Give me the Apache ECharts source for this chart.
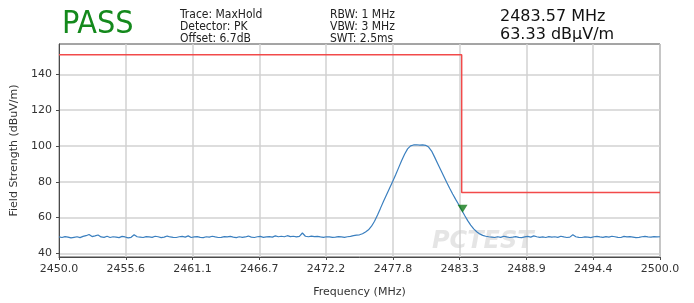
<!DOCTYPE html>
<html>
<head>
<meta charset="utf-8">
<script src="https://cdn.jsdelivr.net/npm/echarts@6/dist/echarts.min.js"></script>
<style>
  html, body { margin: 0; padding: 0; background: #fff; }
  #chart { width: 694px; height: 303px; }
</style>
</head>
<body>
<div id="chart"></div>
<script>
// sweep settings
const freqStart = 2450;
const freqStep = 0.25;

// measured trace (dBuV/m), one value per 0.25 MHz from 2450 to 2500
const traceLevel = [
  49.2, 48.9, 49.4, 49.1, 48.7, 49.0, 49.3, 48.8, 49.5, 49.9,
  50.6, 49.4, 49.8, 50.3, 49.2, 49.0, 49.6, 48.9, 49.3, 49.1,
  48.8, 49.5, 49.2, 48.7, 49.0, 50.4, 49.3, 49.1, 48.9, 49.4,
  49.2, 49.0, 49.6, 49.3, 48.8, 49.1, 49.7, 49.2, 49.0, 48.9,
  49.3, 49.5, 49.1, 49.8, 48.9, 49.2, 49.4, 49.0, 48.8, 49.3,
  49.1, 49.6, 49.2, 48.9, 49.0, 49.4, 49.2, 49.5, 49.1, 48.8,
  49.3, 49.0, 49.2, 49.7, 49.1, 48.9, 49.3, 49.5, 49.0, 49.2,
  49.4, 49.1, 49.8, 49.3, 49.6, 49.3, 49.9, 49.4, 49.6, 49.2,
  49.5, 51.4, 49.6, 49.3, 49.7, 49.4, 49.5, 49.2, 49.0, 49.3,
  49.2, 49.0, 49.1, 49.4, 49.2, 49.0, 49.3, 49.5, 49.9, 50.2,
  // carrier
  50.4, 51.0, 52.0, 53.2, 55.2, 58.0, 61.5, 65.3, 69.2, 72.8,
  76.4, 80.0, 83.8, 87.8, 91.8, 95.4, 98.4, 100.1, 100.6, 100.7,
  100.5, 100.6, 100.4, 99.4, 97.2, 93.8, 90.3, 86.8, 83.3, 79.8,
  76.4, 73.2, 70.2, 67.3, 64.3, 61.2, 58.3, 55.8, 53.7, 52.1,
  50.9, 50.1, 49.6, 49.3,
  // noise floor after the band edge
  49.1, 48.9, 49.3, 49.0, 49.6, 49.2, 48.9, 49.1, 49.4, 49.0,
  48.8, 49.2, 49.5, 49.1, 49.8, 49.3, 49.0, 49.2, 48.9, 49.4,
  49.1, 49.3, 49.0, 49.6, 49.2, 48.9, 49.1, 50.4, 49.3, 49.0,
  48.9, 49.2, 49.1, 48.8, 49.3, 49.5, 49.2, 49.0, 49.4, 49.1,
  49.6, 49.3, 49.0, 48.9, 49.5, 49.2, 49.4, 49.1, 48.8, 49.0,
  49.3, 49.5, 49.2, 49.1, 49.4, 49.2, 49.3
];

// limit line (restricted band edge)
const limitFreq = [2450, 2483.5, 2483.5, 2500];
const limitLevel = [151, 151, 74, 74];

// marker
const markerFreq = 2483.57;
const markerLevel = 63.33;

// axis ticks
const xTickLabels = ['2450.0', '2455.6', '2461.1', '2466.7', '2472.2', '2477.8', '2483.3', '2488.9', '2494.4', '2500.0'];
const yTicks = [40, 60, 80, 100, 120, 140];

const xMin = 2450, xMax = 2500;
const xTicks = xTickLabels.map((_, i) => xMin + i * (xMax - xMin) / (xTickLabels.length - 1));

const traceData = traceLevel.map((v, i) => [freqStart + i * freqStep, v]);
const limitData = limitFreq.map((f, i) => [f, limitLevel[i]]);

const font = 'DejaVu Sans';
const fontNarrow = '"DejaVu Sans Condensed", "DejaVu Sans"';

const chart = echarts.init(document.getElementById('chart'), null, { renderer: 'canvas' });

chart.setOption({
  animation: false,
  textStyle: { fontFamily: font },
  grid: {
    left: 59, right: 34, top: 44, bottom: 36,
    show: true, borderColor: '#4a4a4a', borderWidth: 1
  },
  xAxis: {
    type: 'value',
    min: xMin, max: xMax,
    name: 'Frequency (MHz)',
    nameLocation: 'middle',
    nameGap: 30,
    nameTextStyle: { fontSize: 11, color: '#333', fontFamily: font },
    axisLine: { lineStyle: { color: '#4a4a4a', width: 1 } },
    axisTick: { customValues: xTicks, length: 3, lineStyle: { color: '#4a4a4a' } },
    axisLabel: {
      customValues: xTicks,
      fontSize: 11, color: '#333', margin: 7,
      formatter: v => v.toFixed(1)
    },
    splitLine: { show: true, lineStyle: { color: '#d2d2d2', width: 1.5 } }
  },
  yAxis: {
    type: 'value',
    min: 38, max: 157,
    name: 'Field Strength (dBuV/m)',
    nameLocation: 'middle',
    nameGap: 34,
    nameTextStyle: { fontSize: 11, color: '#333', fontFamily: font },
    axisLine: { show: true, lineStyle: { color: '#4a4a4a', width: 1 } },
    axisTick: { show: true, customValues: yTicks, length: 3, lineStyle: { color: '#4a4a4a' } },
    axisLabel: { customValues: yTicks, fontSize: 11, color: '#333', margin: 7 },
    splitLine: { show: true, lineStyle: { color: '#d2d2d2', width: 1.5 } }
  },
  graphic: [
    { type: 'text', left: 62, top: 9, style: { text: 'PASS', fontSize: 32, fill: '#14891c', fontFamily: fontNarrow } },
    { type: 'text', left: 180, top: 9, style: { text: 'Trace: MaxHold\nDetector: PK\nOffset: 6.7dB', fontSize: 12, lineHeight: 12, fill: '#222', fontFamily: fontNarrow } },
    { type: 'text', left: 330, top: 9, style: { text: 'RBW: 1 MHz\nVBW: 3 MHz\nSWT: 2.5ms', fontSize: 12, lineHeight: 12, fill: '#222', fontFamily: fontNarrow } },
    { type: 'text', left: 500, top: 8, style: { text: '2483.57 MHz\n63.33 dB\u03bcV/m', fontSize: 16, lineHeight: 18, fill: '#111', fontFamily: font } },
    { type: 'text', left: 432, top: 230, z: 0, style: { text: 'PCTEST', fontSize: 24, fontStyle: 'italic', fontWeight: 'bold', fill: 'rgba(170,170,170,0.3)', fontFamily: font } }
  ],
  series: [
    {
      name: 'Limit',
      type: 'line',
      data: limitData,
      symbol: 'none',
      lineStyle: { color: '#f24a4a', width: 1.5 },
      z: 3
    },
    {
      name: 'Trace',
      type: 'line',
      data: traceData,
      symbol: 'none',
      lineStyle: { color: '#3a7fbf', width: 1.2 },
      z: 4
    },
    {
      name: 'Marker',
      type: 'scatter',
      data: [[markerFreq, markerLevel]],
      symbol: 'triangle',
      symbolRotate: 180,
      symbolSize: [10, 8],
      symbolOffset: [0, -3],
      itemStyle: { color: '#127a18' },
      z: 5
    }
  ]
});
</script>
</body>
</html>
